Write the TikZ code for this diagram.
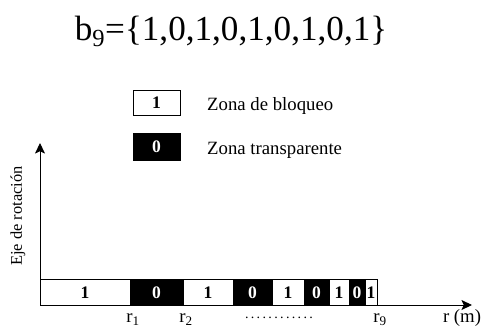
\documentclass[tikz,border=0pt]{standalone}
\usepackage{fontspec}
\setmainfont{Liberation Serif}
\usetikzlibrary{arrows.meta}

\tikzset{
  uno/.style={draw, fill=white, line width=0.8pt},
  cero/.style={draw, fill=black, line width=0.8pt},
  digito/.style={inner sep=0pt, font=\fontsize{15}{17}\selectfont\bfseries},
  texto/.style={inner sep=0pt, font=\fontsize{16}{18}\selectfont},
  eje/.style={line width=0.8pt, -{Stealth[length=9pt, width=8.5pt, inset=2pt]}}
}

\begin{document}
\begin{tikzpicture}[x=0.03cm, y=-0.03cm]
\useasboundingbox (0,0) rectangle (481,329);

% titulo
\node[anchor=base, inner sep=0pt, font=\fontsize{30}{34}\selectfont] (titulo) at (231,40) {b\textsubscript{9}=\{1,0,1,0,1,0,1,0,1\}};

% leyenda
\draw[uno] (133,90) rectangle (180,115);
\node[digito] (ley1) at (156.5,103) {1};
\node[texto, anchor=base west] (bloqueo) at (207,110.5) {Zona de bloqueo};
\draw[cero] (133,133) rectangle (180,160);
\node[digito, white] (ley0) at (156.5,146.5) {0};
\node[texto, anchor=base west] (transp) at (207,154) {Zona transparente};

% ejes
\coordinate (O) at (40,305);
\coordinate (X) at (472,305);
\coordinate (Y) at (40,143);
\draw[eje] (O) -- (X);
\draw[eje] (O) -- (Y);
\node[inner sep=0pt, rotate=90, font=\fontsize{14}{16}\selectfont] (rot) at (18,216) {Eje de rotación};

% zonas
\draw[uno] (40,279.5) rectangle (130,305);
\draw[cero] (130,279.5) rectangle (183,305);
\draw[uno] (183,279.5) rectangle (233,305);
\draw[cero] (233,279.5) rectangle (272,305);
\draw[uno] (272,279.5) rectangle (304,305);
\draw[cero] (304,279.5) rectangle (329,305);
\draw[uno] (329,279.5) rectangle (349,305);
\draw[cero] (349,279.5) rectangle (365,305);
\draw[uno] (365,279.5) rectangle (377,305);

\node[digito] (z1) at (85,292.5) {1};
\node[digito, white] (z2) at (156.5,292.5) {0};
\node[digito] (z3) at (208,292.5) {1};
\node[digito, white] (z4) at (252.5,292.5) {0};
\node[digito] (z5) at (288,292.5) {1};
\node[digito, white] (z6) at (316.5,292.5) {0};
\node[digito] (z7) at (339,292.5) {1};
\node[digito, white] (z8) at (357,292.5) {0};
\node[digito] (z9) at (371,292.5) {1};

% radios
\node[texto, anchor=base] (r1) at (133,322) {r\textsubscript{1}};
\node[texto, anchor=base] (r2) at (186,322) {r\textsubscript{2}};
\node[texto, anchor=base] (puntos) at (279,318) {\fontsize{12}{14}\selectfont.\,.\,.\,.\,.\,.\,.\,.\,.\,.\,.\,.};
\node[texto, anchor=base] (r9) at (380,322) {r\textsubscript{9}};
\node[texto, anchor=base] (rm) at (462,322) {r (m)};
\end{tikzpicture}
\end{document}
